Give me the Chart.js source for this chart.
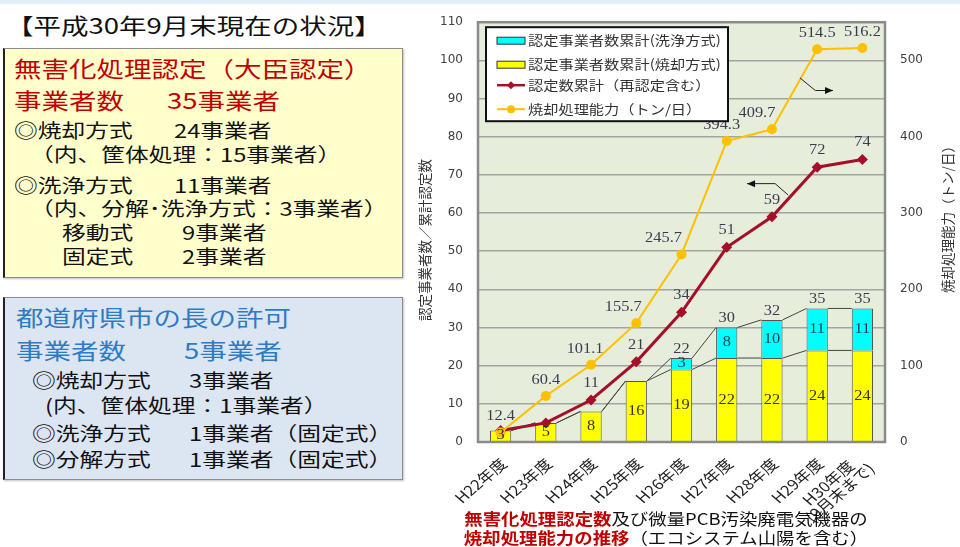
<!DOCTYPE html>
<html><head><meta charset="utf-8">
<script src="https://cdn.jsdelivr.net/npm/chart.js@4"></script>
<style>
html,body{margin:0;padding:0;background:#fff;width:960px;height:547px;overflow:hidden;position:relative;font-family:"Noto Sans CJK JP","Noto Sans",sans-serif;}
#topband{position:absolute;left:0;top:0;width:960px;height:4px;background:#e1edf8;}
.box{position:absolute;box-sizing:border-box;border:1.5px solid #8c8c8c;border-left:2px solid #222;box-shadow:1px 1px 2px rgba(0,0,0,.25);}
.t{position:absolute;white-space:nowrap;line-height:1;transform:scaleX(1.25);transform-origin:0 0;color:#111;}
.r{color:#c00000;}
.b{color:#2f7ac4;}
#chartWrap{position:absolute;left:410px;top:0;width:550px;height:547px;}
.cap{position:absolute;left:366px;width:600px;text-align:center;white-space:nowrap;line-height:1;font-size:16px;transform:scaleX(1.15);transform-origin:300px 0;color:#111;}
.cap .rb{color:#c00000;font-weight:bold;}
</style></head>
<body>
<div id="topband"></div>

<div class="t" style="left:6px;top:13px;font-size:22px;">【平成30年9月末現在の状況】</div>

<div class="box" style="left:3px;top:48px;width:400px;height:230px;background:#ffffcc;"></div>
<div class="t r" style="left:14px;top:56px;font-size:22px;">無害化処理認定（大臣認定）</div>
<div class="t r" style="left:14px;top:88px;font-size:22px;">事業者数</div>
<div class="t r" style="left:167px;top:88px;font-size:22px;">35事業者</div>
<div class="t" style="left:14px;top:120px;font-size:19px;">◎焼却方式</div>
<div class="t" style="left:174px;top:120px;font-size:19px;">24事業者</div>
<div class="t" style="left:30px;top:144px;font-size:19px;">（内、筐体処理：15事業者）</div>
<div class="t" style="left:14px;top:175px;font-size:19px;">◎洗浄方式</div>
<div class="t" style="left:174px;top:175px;font-size:19px;">11事業者</div>
<div class="t" style="left:30px;top:198px;font-size:19px;">（内、分解･洗浄方式：3事業者）</div>
<div class="t" style="left:62px;top:222px;font-size:19px;">移動式</div>
<div class="t" style="left:182px;top:222px;font-size:19px;">9事業者</div>
<div class="t" style="left:62px;top:246px;font-size:19px;">固定式</div>
<div class="t" style="left:182px;top:246px;font-size:19px;">2事業者</div>

<div class="box" style="left:3px;top:297px;width:400px;height:183px;background:#dce6f2;"></div>
<div class="t b" style="left:16px;top:305px;font-size:22px;">都道府県市の長の許可</div>
<div class="t b" style="left:16px;top:338px;font-size:22px;">事業者数</div>
<div class="t b" style="left:184px;top:338px;font-size:22px;">5事業者</div>
<div class="t" style="left:32px;top:370px;font-size:19px;">◎焼却方式</div>
<div class="t" style="left:189px;top:370px;font-size:19px;">3事業者</div>
<div class="t" style="left:45px;top:395px;font-size:19px;">(内、筐体処理：1事業者）</div>
<div class="t" style="left:32px;top:423px;font-size:19px;">◎洗浄方式</div>
<div class="t" style="left:189px;top:423px;font-size:19px;">1事業者（固定式）</div>
<div class="t" style="left:32px;top:449px;font-size:19px;">◎分解方式</div>
<div class="t" style="left:189px;top:449px;font-size:19px;">1事業者（固定式）</div>

<div id="chartWrap"><canvas id="c" width="550" height="547"></canvas></div>

<div class="cap" style="top:510px;"><span class="rb">無害化処理認定数</span>及び微量PCB汚染廃電気機器の</div>
<div class="cap" style="top:529px;"><span class="rb">焼却処理能力の推移</span>（エコシステム山陽を含む）</div>

<script>
// ---- data ----
const categories = [['H22年度'],['H23年度'],['H24年度'],['H25年度'],['H26年度'],['H27年度'],['H28年度'],['H29年度'],['H30年度','(9月末まで)']];
const incinerationCount = [3, 5, 8, 16, 19, 22, 22, 24, 24];
const washingCount = [0, 0, 0, 0, 3, 8, 10, 11, 11];
const cumulativeCertifications = [3, 5, 11, 21, 34, 51, 59, 72, 74];
const capacityTonsPerDay = [12.4, 60.4, 101.1, 155.7, 245.7, 394.3, 409.7, 514.5, 516.2];
const leftAxisTicks = [0, 10, 20, 30, 40, 50, 60, 70, 80, 90, 100, 110];
const rightAxisTicks = [0, 100, 200, 300, 400, 500];
const seriesNames = ['認定事業者数累計(洗浄方式)', '認定事業者数累計(焼却方式)', '認定数累計（再認定含む）', '焼却処理能力（トン/日）'];
const leftAxisTitle = '認定事業者数／累計認定数';
const rightAxisTitle = '焼却処理能力（トン/日）';

// ---- styles ----
const YELLOW = '#ffff00', CYAN = '#00ffff', RED = '#a50f2a', ORANGE = '#ffc000';
const STRETCH = 1.17;
const capLabelShift = [0, 0, -6, -13, -18, -5, -15, 0, 0];

function sText(ctx, txt, x, y, align) {
  ctx.save(); ctx.translate(x, y); ctx.scale(STRETCH, 1);
  ctx.textAlign = align || 'center'; ctx.fillText(txt, 0, 0); ctx.restore();
}
function arrowPath(ctx, pts, xs, ys) {
  const p = pts.map(q => [xs.getPixelForValue(q[0]), ys.getPixelForValue(q[1])]);
  ctx.beginPath(); ctx.moveTo(p[0][0], p[0][1]);
  for (let i = 1; i < p.length; i++) ctx.lineTo(p[i][0], p[i][1]);
  ctx.stroke();
  const a = p[p.length - 1], b = p[p.length - 2];
  const ang = Math.atan2(a[1] - b[1], a[0] - b[0]);
  ctx.beginPath();
  ctx.moveTo(a[0], a[1]);
  ctx.lineTo(a[0] - 8 * Math.cos(ang) + 3.5 * Math.sin(ang), a[1] - 8 * Math.sin(ang) - 3.5 * Math.cos(ang));
  ctx.lineTo(a[0] - 8 * Math.cos(ang) - 3.5 * Math.sin(ang), a[1] - 8 * Math.sin(ang) + 3.5 * Math.cos(ang));
  ctx.closePath(); ctx.fill();
}

const decor = {
  id: 'decor',
  beforeDraw(chart) {
    const {ctx, chartArea: a} = chart;
    ctx.save(); ctx.fillStyle = '#e6eedb';
    ctx.fillRect(a.left, a.top, a.right - a.left, a.bottom - a.top); ctx.restore();
  },
  beforeDatasetDraw(chart, args) {
    if (args.index !== 2) return;
    const {ctx} = chart;
    const ys = chart.scales.y;
    const meta = chart.getDatasetMeta(0);
    ctx.save(); ctx.strokeStyle = '#444'; ctx.lineWidth = 1;
    for (let i = 0; i < categories.length - 1; i++) {
      const b0 = meta.data[i], b1 = meta.data[i + 1];
      const r0 = b0.x + b0.width / 2, l1 = b1.x - b1.width / 2;
      [[incinerationCount[i], incinerationCount[i + 1]],
       [incinerationCount[i] + washingCount[i], incinerationCount[i + 1] + washingCount[i + 1]]].forEach(v => {
        ctx.beginPath(); ctx.moveTo(r0, ys.getPixelForValue(v[0])); ctx.lineTo(l1, ys.getPixelForValue(v[1])); ctx.stroke();
      });
    }
    ctx.restore();
  },
  afterDraw(chart) {
    const {ctx, chartArea: a} = chart;
    const xs = chart.scales.x, ys = chart.scales.y;
    ctx.save();
    // frame
    ctx.strokeStyle = '#8a8a8a'; ctx.lineWidth = 2.5;
    ctx.strokeRect(a.left, a.top, a.right - a.left, a.bottom - a.top);
    // category labels (rotated, lines centred on each other)
    ctx.fillStyle = '#222'; ctx.font = '14.5px "Noto Sans CJK JP"'; ctx.textBaseline = 'middle'; ctx.textAlign = 'center';
    categories.forEach((lines, i) => {
      const x = xs.getPixelForValue(i);
      const w = Math.max(...lines.map(l => ctx.measureText(l).width));
      const lhgt = 14;
      ctx.save();
      ctx.translate(x + 3, a.bottom + 19);
      ctx.scale(STRETCH, 1);
      ctx.rotate(-Math.PI / 4);
      lines.forEach((l, j) => ctx.fillText(l, -w / 2, (j - (lines.length - 1) / 2) * lhgt));
      ctx.restore();
    });
    // bar labels
    const meta0 = chart.getDatasetMeta(0);
    ctx.font = '14px "Liberation Serif"'; ctx.textBaseline = 'middle';
    for (let i = 0; i < categories.length; i++) {
      const x = meta0.data[i].x;
      const yv = incinerationCount[i], cv = washingCount[i];
      ctx.fillStyle = '#333';
      sText(ctx, String(yv), x, ys.getPixelForValue(i === 0 ? 0.6 * yv : yv / 2));
      if (cv > 0) {
        ctx.fillStyle = '#1d3d4a';
        sText(ctx, String(cv), x, ys.getPixelForValue(yv + cv / 2));
        ctx.fillStyle = '#3b3b4f';
        sText(ctx, String(yv + cv), x, ys.getPixelForValue(yv + cv) - 9);
      }
    }
    // red line labels
    const meta2 = chart.getDatasetMeta(2);
    ctx.fillStyle = '#3b3b4f';
    for (let i = 2; i < categories.length; i++) {
      const p = meta2.data[i];
      sText(ctx, String(cumulativeCertifications[i]), p.x, p.y - 17);
    }
    // orange labels
    const meta3 = chart.getDatasetMeta(3);
    for (let i = 0; i < categories.length; i++) {
      const p = meta3.data[i];
      sText(ctx, capacityTonsPerDay[i].toFixed(1), p.x + capLabelShift[i], p.y - 16);
    }
    // arrows
    ctx.strokeStyle = '#222'; ctx.fillStyle = '#111'; ctx.lineWidth = 1;
    arrowPath(ctx, [[6.62, 95.4], [6.96, 92.1], [7.35, 92.1]], xs, ys);
    arrowPath(ctx, [[6.36, 64.7], [6.07, 67.7], [5.45, 67.7]], xs, ys);
    // legend
    const lx = a.left + 8, ly = a.top + 5, lw = 242, lh = 94;
    ctx.fillStyle = '#fff'; ctx.fillRect(lx, ly, lw, lh);
    ctx.strokeStyle = '#111'; ctx.lineWidth = 2; ctx.strokeRect(lx, ly, lw, lh);
    const rows = [13, 37, 58, 82];
    const sx0 = lx + 11, sx1 = lx + 39;
    ctx.lineWidth = 1; ctx.strokeStyle = '#333';
    ctx.fillStyle = CYAN; ctx.fillRect(sx0, ly + rows[0] - 3, sx1 - sx0, 7); ctx.strokeRect(sx0, ly + rows[0] - 3, sx1 - sx0, 7);
    ctx.fillStyle = YELLOW; ctx.fillRect(sx0, ly + rows[1] - 3, sx1 - sx0, 7); ctx.strokeRect(sx0, ly + rows[1] - 3, sx1 - sx0, 7);
    ctx.strokeStyle = RED; ctx.lineWidth = 2.5;
    ctx.beginPath(); ctx.moveTo(sx0, ly + rows[2]); ctx.lineTo(sx1, ly + rows[2]); ctx.stroke();
    ctx.fillStyle = RED; ctx.beginPath();
    const dx = (sx0 + sx1) / 2, dy = ly + rows[2];
    ctx.moveTo(dx, dy - 4); ctx.lineTo(dx + 4, dy); ctx.lineTo(dx, dy + 4); ctx.lineTo(dx - 4, dy); ctx.closePath(); ctx.fill();
    ctx.strokeStyle = ORANGE; ctx.lineWidth = 2;
    ctx.beginPath(); ctx.moveTo(sx0, ly + rows[3]); ctx.lineTo(sx1, ly + rows[3]); ctx.stroke();
    ctx.fillStyle = ORANGE; ctx.beginPath(); ctx.arc(dx, ly + rows[3], 4, 0, Math.PI * 2); ctx.fill();
    ctx.fillStyle = '#333'; ctx.font = '13px "Noto Sans CJK JP"'; ctx.textBaseline = 'middle';
    seriesNames.forEach((n, i) => sText(ctx, n, lx + 42, ly + rows[i], 'left'));
    // axis titles
    ctx.fillStyle = '#333'; ctx.font = '13.5px "Noto Sans CJK JP"'; ctx.textAlign = 'center';
    ctx.save(); ctx.translate(a.left - 53, 240); ctx.rotate(-Math.PI / 2); ctx.fillText(leftAxisTitle, 0, 0); ctx.restore();
    ctx.save(); ctx.translate(a.right + 63, 216); ctx.rotate(-Math.PI / 2); ctx.fillText(rightAxisTitle, 0, 0); ctx.restore();
    ctx.restore();
  }
};

new Chart(document.getElementById('c'), {
  data: {
    labels: categories,
    datasets: [
      {type: 'bar', label: seriesNames[1], data: incinerationCount, backgroundColor: YELLOW, borderColor: '#555', borderWidth: 1, stack: 's', yAxisID: 'y', order: 3, barPercentage: 0.47, categoryPercentage: 1},
      {type: 'bar', label: seriesNames[0], data: washingCount, backgroundColor: CYAN, borderColor: '#555', borderWidth: 1, stack: 's', yAxisID: 'y', order: 3, barPercentage: 0.47, categoryPercentage: 1},
      {type: 'line', label: seriesNames[2], data: cumulativeCertifications, borderColor: RED, backgroundColor: RED, borderWidth: 3, pointStyle: 'rectRot', pointRadius: 5.5, pointBorderWidth: 0, tension: 0, yAxisID: 'y', order: 2},
      {type: 'line', label: seriesNames[3], data: capacityTonsPerDay, borderColor: ORANGE, backgroundColor: ORANGE, borderWidth: 2, pointStyle: 'circle', pointRadius: 5, pointBorderWidth: 0, tension: 0, yAxisID: 'y1', order: 1}
    ]
  },
  options: {
    responsive: false, animation: false, devicePixelRatio: 1,
    layout: {padding: {top: 5, left: 0, right: 0, bottom: 0}},
    plugins: {legend: {display: false}, tooltip: {enabled: false}},
    scales: {
      x: {
        stacked: true, offset: true,
        grid: {display: false}, border: {display: false},
        ticks: {display: false, autoSkip: false},
        afterFit(s) { s.height = 105; }
      },
      y: {
        position: 'left', stacked: true, min: 0, max: 110,
        grid: {color: '#a3a3a3', lineWidth: 1.5, drawTicks: false}, border: {display: false},
        ticks: {padding: 15, color: '#404040', font: {family: '"DejaVu Sans"', size: 12}},
        afterBuildTicks(s) { s.ticks = leftAxisTicks.map(v => ({value: v})); },
        afterFit(s) { s.width = 68; }
      },
      y1: {
        position: 'right', min: 0, max: 550,
        grid: {display: false, drawTicks: false}, border: {display: false},
        ticks: {padding: 15, color: '#404040', font: {family: '"DejaVu Sans"', size: 12}},
        afterBuildTicks(s) { s.ticks = rightAxisTicks.map(v => ({value: v})); },
        afterFit(s) { s.width = 75; }
      }
    }
  },
  plugins: [decor]
});
</script>
</body></html>
